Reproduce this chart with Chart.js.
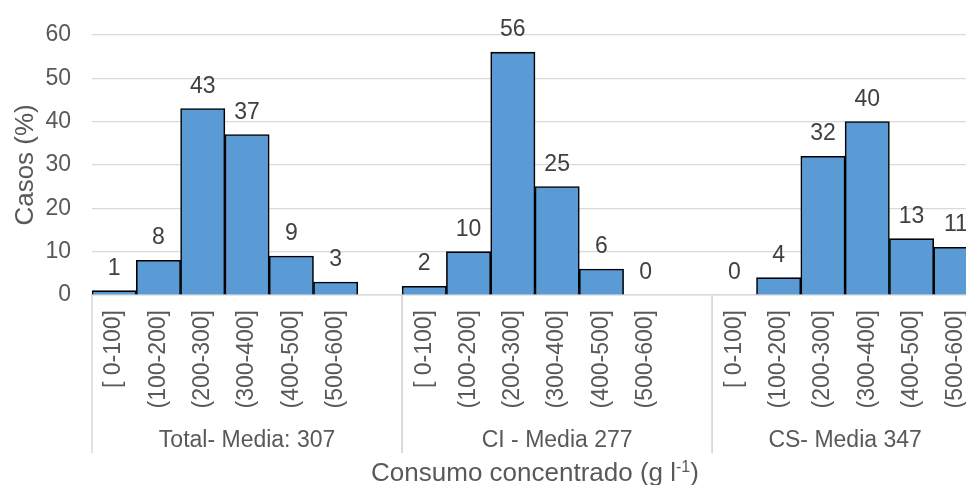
<!DOCTYPE html>
<html>
<head>
<meta charset="utf-8">
<script src="https://cdn.jsdelivr.net/npm/chart.js@4.4.1/dist/chart.umd.min.js"></script>
<style>
  html, body { margin: 0; padding: 0; overflow: hidden; background: #fff; }
  #wrap { width: 980px; height: 485px; }
</style>
</head>
<body>
<div id="wrap"><canvas id="chart" width="980" height="485"></canvas></div>
<script>
const ranges = ['[ 0-100]', '(100-200]', '(200-300]', '(300-400]', '(400-500]', '(500-600]'];
const groups = ['Total- Media: 307', 'CI - Media 277', 'CS- Media 347'];
const totalValues = [1, 8, 43, 37, 9, 3];
const ciValues = [2, 10, 56, 25, 6, 0];
const csValues = [0, 4, 32, 40, 13, 11];
const yTicks = [0, 10, 20, 30, 40, 50, 60];

const FONT = '"Liberation Sans", Arial, sans-serif';
const GREY = '#595959';

// flatten the three groups into one category axis, with an empty slot after the first two
const labels = [];
const values = [];
const spans = [];
[totalValues, ciValues, csValues].forEach((vals, g) => {
  const first = labels.length;
  ranges.forEach((r, i) => { labels.push(r); values.push(vals[i]); });
  if (g < 2) { labels.push(''); values.push(null); }
  spans.push([first, labels.length - 1]);
});

const extras = {
  id: 'extras',
  afterDatasetsDraw(chart) {
    const { ctx, scales: { y } } = chart;
    const meta = chart.getDatasetMeta(0);
    ctx.save();
    ctx.font = '23px ' + FONT;
    ctx.fillStyle = '#404040';
    ctx.textAlign = 'center';
    ctx.textBaseline = 'alphabetic';
    meta.data.forEach((bar, i) => {
      const v = values[i];
      if (v === null) return;
      ctx.fillText(String(v), bar.x, y.getPixelForValue(v) - 16);
    });
    ctx.restore();
  },
  afterDraw(chart) {
    const { ctx, chartArea, scales: { x } } = chart;
    const half = (x.getPixelForValue(1) - x.getPixelForValue(0)) / 2;
    ctx.save();
    // group separators and group names under the tick labels
    ctx.strokeStyle = '#d9d9d9';
    ctx.lineWidth = 1.5;
    ctx.fillStyle = GREY;
    ctx.font = '23px ' + FONT;
    ctx.textAlign = 'center';
    ctx.textBaseline = 'alphabetic';
    spans.forEach(([a, b], g) => {
      const left = x.getPixelForValue(a) - half;
      const right = x.getPixelForValue(b) + half;
      [left, right].forEach(px => {
        ctx.beginPath();
        ctx.moveTo(px, chartArea.bottom);
        ctx.lineTo(px, 453);
        ctx.stroke();
      });
      ctx.fillText(groups[g], (left + right) / 2, 447);
    });

    // axis title with superscript unit
    const main = 'Consumo concentrado (g l';
    const sup = '-1';
    const tail = ')';
    ctx.font = '26px ' + FONT;
    const wMain = ctx.measureText(main).width;
    const wTail = ctx.measureText(tail).width;
    ctx.font = '16px ' + FONT;
    const wSup = ctx.measureText(sup).width;
    let tx = (chartArea.left + chartArea.right) / 2 - (wMain + wSup + wTail) / 2;
    ctx.textAlign = 'left';
    ctx.font = '26px ' + FONT;
    ctx.fillText(main, tx, 481);
    tx += wMain;
    ctx.font = '16px ' + FONT;
    ctx.fillText(sup, tx, 472);
    tx += wSup;
    ctx.font = '26px ' + FONT;
    ctx.fillText(tail, tx, 481);
    ctx.restore();
  }
};

new Chart(document.getElementById('chart'), {
  type: 'bar',
  data: {
    labels: labels,
    datasets: [{
      label: 'Casos (%)',
      data: values,
      backgroundColor: '#5b9bd5',
      borderColor: '#000000',
      borderWidth: 1.6,
      barPercentage: 1,
      categoryPercentage: 1,
    }],
  },
  options: {
    responsive: false,
    animation: false,
    layout: { padding: { top: 33, bottom: 76, left: 0, right: 2 } },
    plugins: {
      legend: { display: false },
      tooltip: { enabled: false },
    },
    scales: {
      x: {
        grid: { display: false },
        border: { display: true, color: '#d9d9d9', width: 1.5 },
        ticks: {
          autoSkip: false,
          maxRotation: 90,
          minRotation: 90,
          padding: 7,
          color: GREY,
          font: { family: FONT, size: 23 },
        },
        afterFit: s => {
          s.height = 114;
          s.paddingLeft = 0;
          s.paddingRight = 0;
        },
      },
      y: {
        min: 0,
        max: 60,
        afterBuildTicks: s => { s.ticks = yTicks.map(v => ({ value: v })); },
        ticks: { padding: 21, color: GREY, font: { family: FONT, size: 23 } },
        grid: { color: '#d9d9d9', lineWidth: 1.2, drawTicks: false },
        border: { display: false },
        title: {
          display: true,
          text: 'Casos (%)',
          color: GREY,
          font: { family: FONT, size: 26 },
          padding: { top: 10, bottom: 5 },
        },
        afterFit: s => { s.width = 92; },
      },
    },
  },
  plugins: [extras],
});
</script>
</body>
</html>
